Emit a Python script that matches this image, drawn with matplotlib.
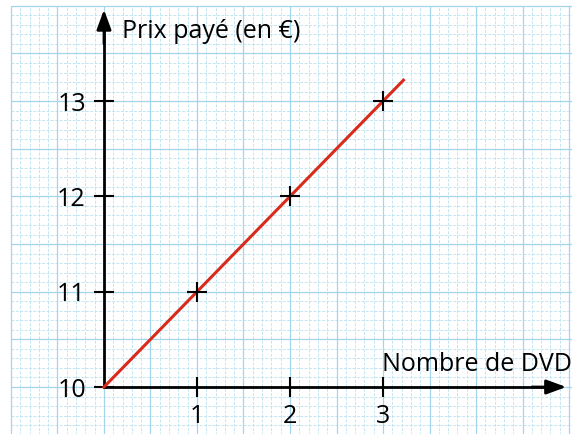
import numpy as np
import matplotlib.pyplot as plt

# Nombre de DVD achetés et prix payé correspondant
nombre_dvd = [1, 2, 3]
prix_paye = [11, 12, 13]

# droite tracée depuis l'origine du repère
droite_x = [0, 3.22]
droite_y = [10, 13.22]

x_ticks = [1, 2, 3]
y_ticks = [10, 11, 12, 13]

plt.rcParams['font.family'] = ['Open Sans', 'DejaVu Sans']

fig = plt.figure(figsize=(5.72, 4.34), dpi=100)
ax = fig.add_axes([0, 0, 1, 1])
ax.set_xlim(-1.118, 5.032)
ax.set_ylim(9.507, 14.061)

# papier millimétré : traits fins tous les 0.1, traits plus marqués tous les 0.5
gx0, gx1 = -1.0, 5.1
gy0, gy1 = 9.4, 14.0
fins_x = np.round(np.arange(gx0, gx1, 0.1), 2)
fins_y = np.round(np.arange(gy0, gy1 + 0.01, 0.1), 2)
ax.vlines(fins_x, gy0, gy1, colors='#c3e5f2', linewidth=0.7,
          linestyles=(0, (3, 1.5)), zorder=1)
ax.hlines(fins_y, gx0, gx1, colors='#c3e5f2', linewidth=0.7,
          linestyles=(0, (3, 1.5)), zorder=1)
gros_x = np.arange(gx0, gx1, 0.5)
gros_y = np.arange(9.5, gy1 + 0.01, 0.5)
ax.vlines(gros_x, gy0, gy1, colors='#a3d6ea', linewidth=0.9, zorder=1)
ax.hlines(gros_y, gx0, gx1, colors='#a3d6ea', linewidth=0.9, zorder=1)

# axes du repère
for side in ['top', 'right']:
    ax.spines[side].set_visible(False)
ax.spines['left'].set_position(('data', 0))
ax.spines['bottom'].set_position(('data', 10))
ax.spines['left'].set_bounds(10, 13.8)
ax.spines['bottom'].set_bounds(0, 4.85)
for side in ['left', 'bottom']:
    ax.spines[side].set_linewidth(2)
    ax.spines[side].set_zorder(3)

fleche = dict(arrowstyle='-|>,head_length=0.6,head_width=0.22', color='black',
              lw=2, mutation_scale=20, shrinkA=0, shrinkB=0)
ax.annotate('', xy=(0, 13.96), xytext=(0, 13.6), arrowprops=fleche, zorder=4)
ax.annotate('', xy=(4.97, 10), xytext=(4.6, 10), arrowprops=fleche, zorder=4)

ax.set_xticks(x_ticks)
ax.set_yticks(y_ticks)
ax.tick_params(direction='inout', length=14, width=1.5, labelsize=18, colors='black')
ax.tick_params(axis='x', pad=5)
ax.tick_params(axis='y', pad=6)

ax.plot(droite_x, droite_y, color='#d92b1c', linewidth=2.2, zorder=5)
ax.plot(nombre_dvd, prix_paye, linestyle='none', marker='+', markersize=15,
        markeredgewidth=1.5, color='black', zorder=6)

ax.text(0.19, 13.73, 'Prix payé (en €)', fontsize=18, va='center', ha='left')
ax.text(2.99, 10.24, 'Nombre de DVD', fontsize=18, va='center', ha='left')

fig.savefig('out.png', dpi=100)
